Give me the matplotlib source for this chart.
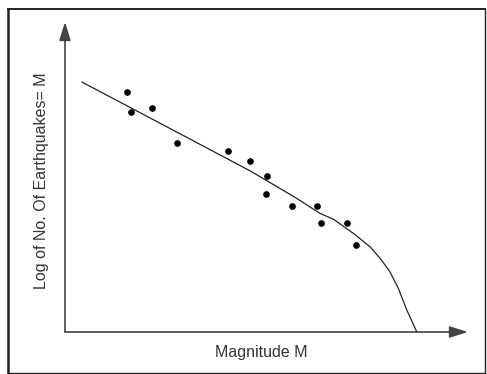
import matplotlib.pyplot as plt
from matplotlib.lines import Line2D

plt.rcParams['font.family'] = ['Liberation Sans', 'DejaVu Sans']

# observed magnitudes / log counts (arbitrary units)
mag = [1.53, 1.64, 2.15, 2.77, 4.05, 4.59, 5.00, 4.99, 5.63, 6.25, 6.36, 7.00, 7.21]
logn = [6.19, 5.69, 5.77, 4.88, 4.67, 4.41, 4.02, 3.57, 3.25, 3.26, 2.81, 2.81, 2.25]

# fitted relation, bending down at large magnitude
fit_m = [0.42, 2.5, 4.59, 5.7, 6.33, 6.66, 7.15, 7.57, 7.82, 8.06, 8.27, 8.48, 8.73]
fit_n = [6.45, 5.31, 4.16, 3.48, 3.06, 2.91, 2.55, 2.20, 1.90, 1.56, 1.13, 0.57, 0.0]

W, H = 487, 374
fig = plt.figure(figsize=(W / 100, H / 100), dpi=100)
ax = fig.add_axes([65 / W, (H - 332) / H, (468 - 65) / W, (332 - 22) / H])
ax.set_xlim(0, 10)
ax.set_ylim(0, 8)
ax.axis('off')

ax.plot(fit_m, fit_n, color='#222222', lw=0.9, clip_on=False)
ax.plot(mag, logn, 'o', color='black', ms=3.8, clip_on=False)

arrow = dict(arrowstyle='-|>,head_length=0.8,head_width=0.25', color='#444444',
             lw=1.2, shrinkA=0, shrinkB=0, mutation_scale=14)
ax.annotate('', xy=(1, 0), xytext=(0, 0), xycoords='axes fraction', arrowprops=arrow)
ax.annotate('', xy=(0, 1), xytext=(0, 0), xycoords='axes fraction', arrowprops=arrow)

fig.text(261 / W, 1 - 352 / H, 'Magnitude M', ha='center', va='center',
         fontsize=11.5, color='#333333')
fig.text(42 / W, 1 - 181 / H, 'Log of No. Of Earthquakes= M', ha='center', va='center',
         rotation=90, fontsize=11.5, color='#333333')

# outer frame
def frame(x0, y0, x1, y1, lw):
    fig.add_artist(Line2D([x0 / W, x1 / W], [1 - y0 / H, 1 - y1 / H],
                          color='#222222', lw=lw))

frame(7.5, 8.5, 485, 8.5, 1.4)
frame(7.5, 8.5, 7.5, 373, 1.8)
frame(485, 8.5, 485, 373, 1.0)
frame(7.5, 372.5, 485, 372.5, 1.0)

fig.savefig('out.png', dpi=100)
